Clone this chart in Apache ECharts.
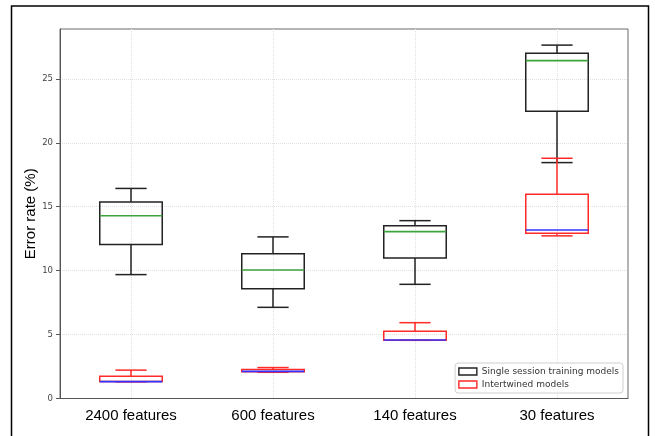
<!DOCTYPE html>
<html>
<head>
<meta charset="utf-8">
<script src="https://cdn.jsdelivr.net/npm/echarts@6/dist/echarts.min.js"></script>
<style>
  html, body { margin: 0; padding: 0; background: #fff; }
  #chart { width: 655px; height: 436px; }
</style>
</head>
<body>
<div id="chart"></div>
<script>
// Feature-set sizes on the x axis
const categories = ['2400 features', '600 features', '140 features', '30 features'];

// Box statistics per feature set: [min, q1, median, q3, max] (error rate, %)
const singleSession = [
  [9.69, 12.04, 14.29, 15.36, 16.43],
  [7.13, 8.59, 10.05, 11.33, 12.64],
  [8.93, 10.99, 13.05, 13.52, 13.91],
  [18.45, 22.47, 26.43, 27.01, 27.64]
];
const intertwined = [
  [1.30, 1.32, 1.32, 1.75, 2.22],
  [2.05, 2.10, 2.12, 2.27, 2.42],
  [4.55, 4.56, 4.58, 5.26, 5.93],
  [12.72, 12.93, 13.18, 15.98, 18.79]
];

const yTicks = [0, 5, 10, 15, 20, 25];
const seriesNames = ['Single session training models', 'Intertwined models'];

function boxRenderer(boxColor, medianColor) {
  return function (params, api) {
    const x = api.value(0);
    const pMin = api.coord([x, api.value(1)]);
    const pQ1 = api.coord([x, api.value(2)]);
    const pMed = api.coord([x, api.value(3)]);
    const pQ3 = api.coord([x, api.value(4)]);
    const pMax = api.coord([x, api.value(5)]);
    const band = api.size([1, 0])[0];
    const half = band * 0.22;
    const capHalf = half / 2;
    const cx = pMed[0];
    const lineStyle = { stroke: boxColor, lineWidth: 1.5, fill: null };
    return {
      type: 'group',
      children: [
        { type: 'line', shape: { x1: cx, y1: pQ3[1], x2: cx, y2: pMax[1] }, style: lineStyle },
        { type: 'line', shape: { x1: cx, y1: pQ1[1], x2: cx, y2: pMin[1] }, style: lineStyle },
        { type: 'line', shape: { x1: cx - capHalf, y1: pMax[1], x2: cx + capHalf, y2: pMax[1] }, style: lineStyle },
        { type: 'line', shape: { x1: cx - capHalf, y1: pMin[1], x2: cx + capHalf, y2: pMin[1] }, style: lineStyle },
        { type: 'rect', shape: { x: cx - half, y: pQ3[1], width: half * 2, height: pQ1[1] - pQ3[1] }, style: { stroke: boxColor, lineWidth: 1.5, fill: 'rgba(255,255,255,0)' } },
        { type: 'line', shape: { x1: cx - half, y1: pMed[1], x2: cx + half, y2: pMed[1] }, style: { stroke: medianColor, lineWidth: 1.6 } }
      ]
    };
  };
}

function toData(stats) {
  return stats.map((s, i) => [i].concat(s));
}

const chart = echarts.init(document.getElementById('chart'), null, { renderer: 'canvas' });

chart.setOption({
  animation: false,
  backgroundColor: '#fff',
  grid: {
    left: 60, right: 27, top: 29, bottom: 37.5,
    show: true, borderColor: '#6a6a6a', borderWidth: 1
  },
  legend: {
    orient: 'vertical',
    right: 32, bottom: 43,
    backgroundColor: '#fff',
    borderColor: '#d0d0d0', borderWidth: 1, borderRadius: 3,
    padding: [3, 4, 3, 3],
    itemWidth: 18, itemHeight: 7, itemGap: 2,
    textStyle: { fontFamily: 'DejaVu Sans', fontSize: 9, color: '#333', lineHeight: 11 },
    data: [
      { name: seriesNames[0], icon: 'rect', itemStyle: { color: '#fff', borderColor: '#222', borderWidth: 1.4 } },
      { name: seriesNames[1], icon: 'rect', itemStyle: { color: '#fff', borderColor: '#ff2a2a', borderWidth: 1.4 } }
    ]
  },
  xAxis: {
    type: 'category',
    data: categories,
    boundaryGap: true,
    axisLine: { lineStyle: { color: '#555', width: 1 } },
    axisTick: { alignWithLabel: true, length: 4, lineStyle: { color: '#555' } },
    axisLabel: { margin: 10, fontFamily: 'Liberation Sans', fontSize: 15, color: '#000', interval: 0 },
    splitLine: { show: true, alignWithLabel: true, interval: 0, lineStyle: { color: '#e0e0e0', type: 'dotted', width: 1 } }
  },
  yAxis: {
    type: 'value',
    min: 0, max: 28.9, interval: 5,
    name: 'Error rate (%)',
    nameLocation: 'middle',
    nameGap: 22,
    nameMoveOverlap: false,
    nameTextStyle: { fontFamily: 'Liberation Sans', fontSize: 15, color: '#000' },
    axisLine: { show: true, lineStyle: { color: '#555', width: 1 } },
    axisTick: { show: true, length: 4, customValues: yTicks, lineStyle: { color: '#555' } },
    axisLabel: {
      margin: 7, fontFamily: 'DejaVu Sans', fontSize: 8.5, color: '#444',
      customValues: yTicks
    },
    splitLine: { show: true, lineStyle: { color: '#e0e0e0', type: 'dotted', width: 1 } }
  },
  series: [
    {
      name: seriesNames[0],
      type: 'custom',
      renderItem: boxRenderer('#222', '#3da33d'),
      encode: { x: 0, y: [1, 2, 3, 4, 5] },
      itemStyle: { color: '#222' },
      data: toData(singleSession),
      z: 2
    },
    {
      name: seriesNames[1],
      type: 'custom',
      renderItem: boxRenderer('#ff2a2a', '#3333ff'),
      encode: { x: 0, y: [1, 2, 3, 4, 5] },
      itemStyle: { color: '#ff2a2a' },
      data: toData(intertwined),
      z: 3
    }
  ],
  graphic: [
    {
      type: 'rect',
      shape: { x: 11.5, y: 6, width: 637, height: 450 },
      style: { stroke: '#000', lineWidth: 1.5, fill: null },
      silent: true
    }
  ]
});
</script>
</body>
</html>
